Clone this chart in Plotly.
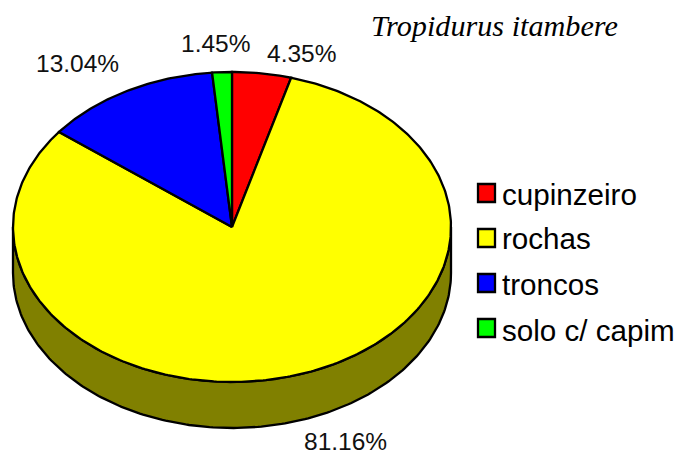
import numpy as np
import plotly.graph_objects as go

categories = ["cupinzeiro", "rochas", "troncos", "solo c/ capim"]
values = [4.35, 81.16, 13.04, 1.45]
labels = ["4.35%", "81.16%", "13.04%", "1.45%"]
colors = ["#ff0000", "#ffff00", "#0000ff", "#00ff00"]
side_colors = ["#800000", "#808000", "#000080", "#008000"]
label_px = [(301, 53), (345, 441), (77, 64), (215, 44)]
legend_text_y = [194, 238, 284, 330]
swatch_y = [193, 238, 283, 328]

W, H = 680, 455
CX, CY, RX, RY, DEPTH = 232, 227, 219, 155, 46
d = DEPTH / RY
LW = 2.3

fig = go.Figure()
edges = np.cumsum([0] + values) / sum(values) * 2 * np.pi

for i in range(len(values)):
    a0, a1 = max(edges[i], np.pi / 2), min(edges[i + 1], 3 * np.pi / 2)
    if a1 <= a0:
        continue
    t = np.linspace(a0, a1, 200)
    x = np.concatenate([np.sin(t), np.sin(t[::-1])])
    y = np.concatenate([np.cos(t), np.cos(t[::-1]) - d])
    fig.add_trace(go.Scatter(x=np.append(x, x[0]), y=np.append(y, y[0]), mode="lines", fill="toself",
                             fillcolor=side_colors[i], line=dict(color="black", width=LW),
                             showlegend=False, hoverinfo="skip"))

for i in range(len(values)):
    n = max(int((edges[i + 1] - edges[i]) * 80), 8)
    t = np.linspace(edges[i], edges[i + 1], n)
    x = np.concatenate([[0], np.sin(t), [0]])
    y = np.concatenate([[0], np.cos(t), [0]])
    fig.add_trace(go.Scatter(x=x, y=y, mode="lines", fill="toself", fillcolor=colors[i],
                             line=dict(color="black", width=LW), name=categories[i],
                             showlegend=False, hoverinfo="name"))

for (px, py), s in zip(label_px, labels):
    fig.add_annotation(x=px / W, y=1 - py / H, xref="paper", yref="paper", text=s, showarrow=False,
                       xanchor="center", yanchor="middle", borderpad=0,
                       font=dict(family="Liberation Sans", size=24.5, color="#111111"))

fig.add_annotation(x=494.5 / W, y=1 - 26 / H, xref="paper", yref="paper", text="<i>Tropidurus itambere</i>",
                   showarrow=False, xanchor="center", yanchor="middle",
                   font=dict(family="Liberation Serif", size=30.2, color="black"))

for c, s, py, sy in zip(colors, categories, legend_text_y, swatch_y):
    fig.add_shape(type="rect", xref="paper", yref="paper", x0=478 / W, x1=495 / W,
                  y0=1 - (sy - 9) / H, y1=1 - (sy + 9) / H, fillcolor=c, line=dict(color="black", width=LW))
    fig.add_annotation(x=500 / W, y=1 - py / H, xref="paper", yref="paper", text=s, xanchor="left",
                       yanchor="middle", showarrow=False,
                       font=dict(family="Liberation Sans", size=29.6, color="black"))

fig.update_layout(
    width=W, height=H, autosize=False, margin=dict(l=0, r=0, t=0, b=0),
    paper_bgcolor="white", plot_bgcolor="white", showlegend=False,
    xaxis=dict(visible=False, range=[-CX / RX, (W - CX) / RX], fixedrange=True),
    yaxis=dict(visible=False, range=[-(H - CY) / RY, CY / RY], fixedrange=True),
)
fig.write_html("out.html", config={"displayModeBar": False},
               post_script="document.body.style.margin='0';document.documentElement.style.overflow='hidden';")
